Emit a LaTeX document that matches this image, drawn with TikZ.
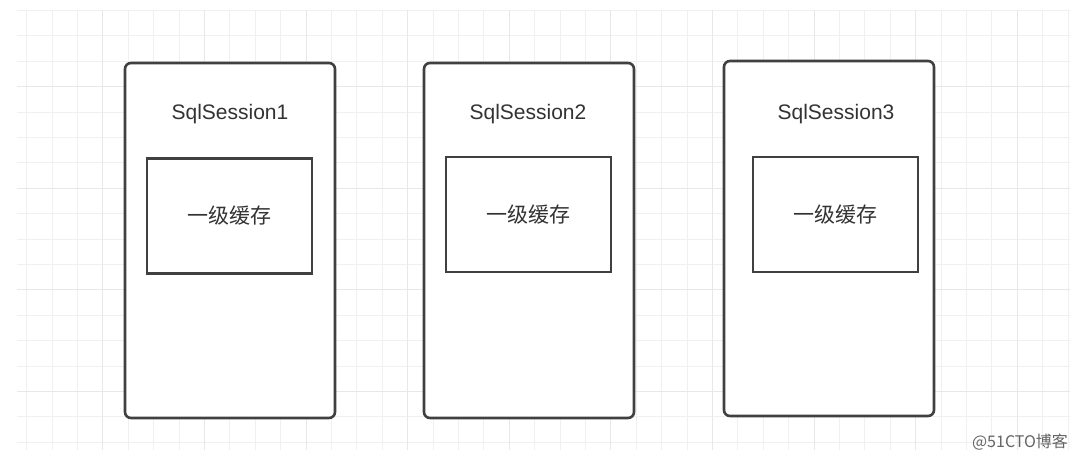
\documentclass[tikz,border=0pt]{standalone}
\usepackage{fontspec}
\setmainfont{Liberation Sans}
\newfontfamily\cjk{Noto Sans CJK SC}
\definecolor{gridminor}{RGB}{240,240,240}
\definecolor{gridmajor}{RGB}{232,232,232}
\definecolor{boxline}{RGB}{64,64,64}
\definecolor{txt}{RGB}{51,51,51}
\definecolor{wm}{RGB}{100,100,100}
\tikzset{
  session/.style={draw=boxline, line width=2.6pt, rounded corners=6pt, minimum width=210pt, minimum height=355pt, inner sep=0pt, fill=white},
  cache/.style={draw=boxline, line width=2.6pt, minimum width=165pt, minimum height=115pt, inner sep=0pt, font=\cjk\fontsize{21}{24}\selectfont, text=txt},
  title/.style={font=\fontsize{21}{24}\selectfont, text=txt, inner sep=0pt},
  minorline/.style={draw=gridminor, line width=1pt},
  majorline/.style={draw=gridmajor, line width=1pt}
}
\begin{document}
\begin{tikzpicture}[x=1pt,y=-1pt]
\useasboundingbox (0,0) rectangle (1080,461);
\fill[white] (0,0) rectangle (1080,461);
% grid
\foreach \k in {0,...,41}{
  \pgfmathsetmacro{\xx}{26.7+25.4*\k}
  \draw[minorline] (\xx,10) -- (\xx,450);
}
\foreach \k in {0,...,17}{
  \pgfmathsetmacro{\yy}{10.5+25.4*\k}
  \draw[minorline] (17,\yy) -- (1070,\yy);
}
\foreach \k in {3,7,...,39}{
  \pgfmathsetmacro{\xx}{26.7+25.4*\k}
  \draw[majorline] (\xx,10) -- (\xx,450);
}
\foreach \k in {3,7,11,15}{
  \pgfmathsetmacro{\yy}{10.5+25.4*\k}
  \draw[majorline] (17,\yy) -- (1070,\yy);
}
% sessions
\node[session] (s1) at (230,240.5) {};
\node[session] (s2) at (529,240.5) {};
\node[session] (s3) at (829,238.5) {};
\node[title] (t1) at (230,114.5) {SqlSession1};
\node[title] (t2) at (528,114.5) {SqlSession2};
\node[title] (t3) at (836,114.5) {SqlSession3};
\node[cache] (c1) at (229.5,216) {\raisebox{-2pt}{一级缓存}};
\node[cache] (c2) at (528.5,214.5) {\raisebox{-2pt}{一级缓存}};
\node[cache] (c3) at (835.5,214.5) {\raisebox{-1pt}{一级缓存}};
% watermark
\node[font=\cjk\fontsize{16}{18}\selectfont, text=wm, inner sep=0pt] (wm) at (1020,442) {@51CTO博客};
\end{tikzpicture}
\end{document}
